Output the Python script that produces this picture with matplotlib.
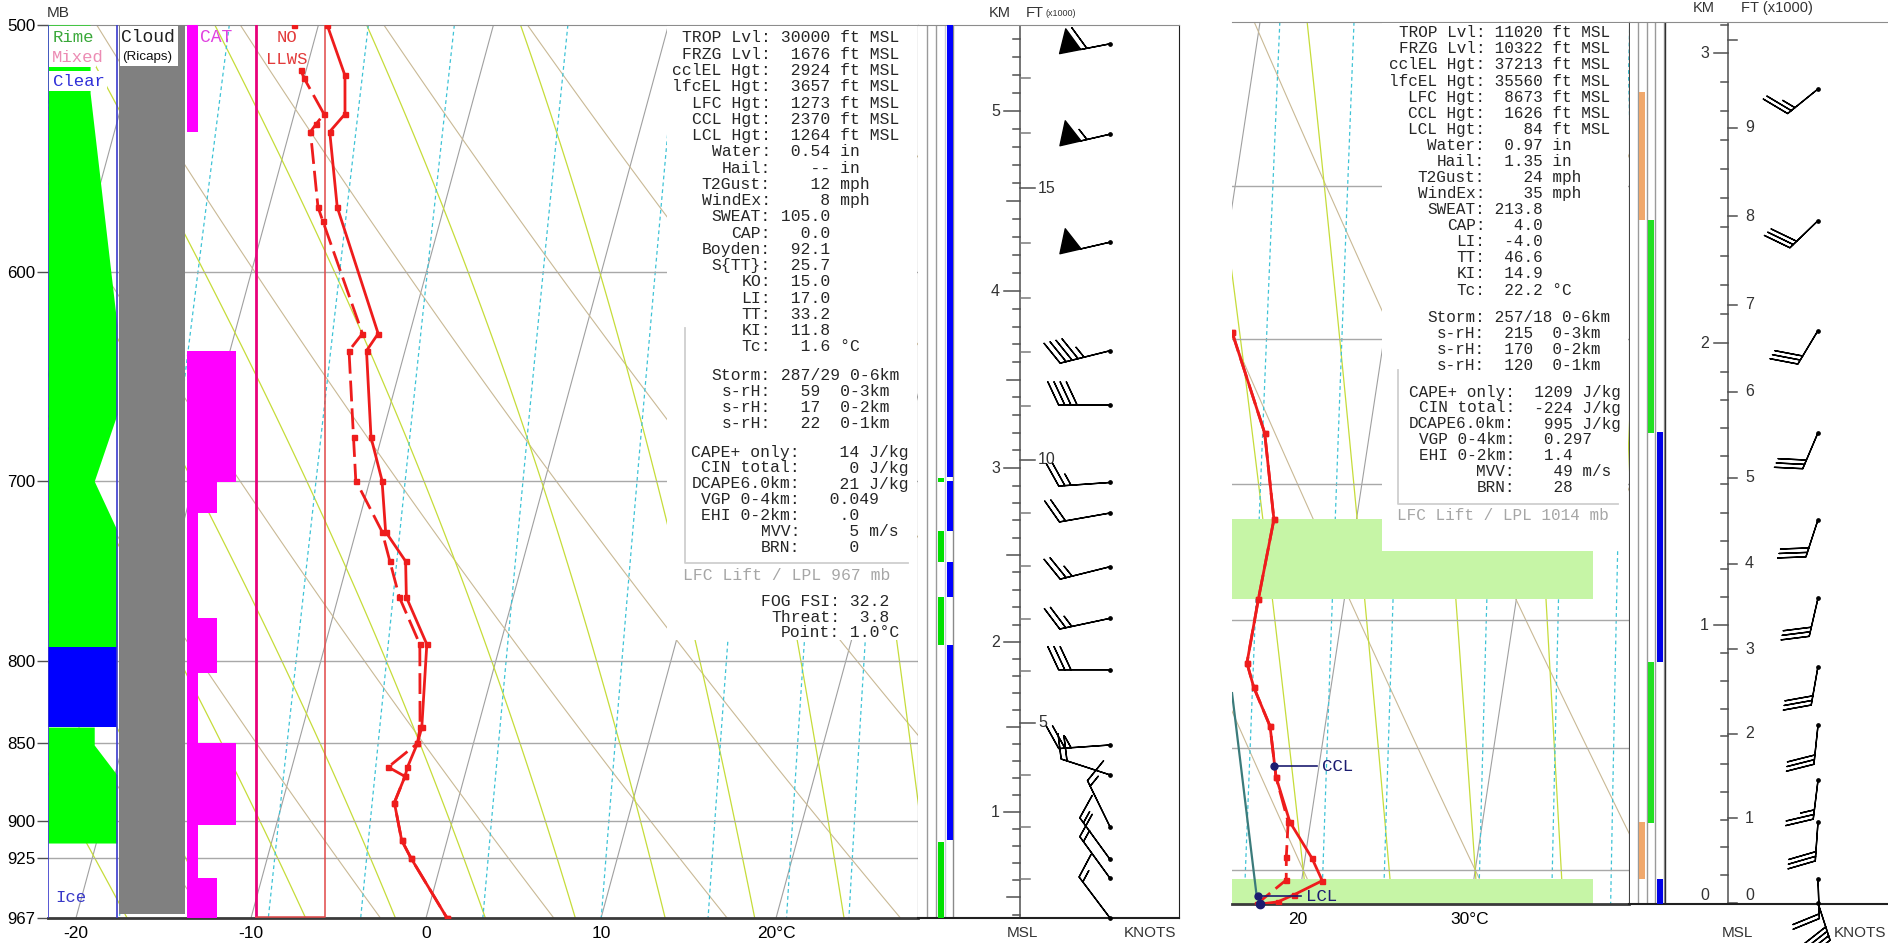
import numpy as np
import matplotlib
matplotlib.use("Agg")
import matplotlib.pyplot as plt
from matplotlib.lines import Line2D
from matplotlib.patches import Rectangle
from matplotlib.ticker import NullLocator
from matplotlib.transforms import Affine2D

W, H = 1888, 943
MONO = ["Liberation Mono", "DejaVu Sans Mono"]
SANS = ["Liberation Sans", "DejaVu Sans"]
SKEW = 21.0   # x shift in deg C per unit of ln(p)

# ---------------- left sounding (LPL 967 mb) ----------------
P_SFC_L, P_TOP_L = 967.0, 500.0
p_temp_L = [500, 519, 534, 541, 572, 628, 636, 678, 700, 727, 743, 763, 790,
            840, 850, 865, 871, 888, 913, 925, 967]
t_temp_L = [-19.5, -17.7, -17.1, -17.7, -16.1, -11.8, -12.2, -10.6, -9.3, -8.3,
            -6.7, -6.1, -4.2, -3.2, -3.2, -3.4, -3.4, -3.6, -2.6, -1.8, 1.2]
p_dewp_L = [500, 517, 520, 534, 538, 541, 572, 578, 628, 636, 678, 700, 727,
            743, 763, 790, 840, 850, 865, 871, 888, 913, 925, 967]
t_dewp_L = [-21.4, -20.3, -20.0, -18.3, -18.6, -18.8, -17.2, -16.7, -12.7, -13.2,
            -11.6, -10.8, -8.5, -7.6, -6.5, -4.6, -3.3, -3.2, -4.5, -3.4, -3.6,
            -2.6, -1.8, 1.2]
p_levels_L = [500, 600, 700, 800, 850, 900, 925, 967]

p_wind_L = [507, 542, 587, 636, 662, 701, 717, 746, 775, 805, 851, 870, 904, 926, 939, 967]
wdir_L = [259, 257, 257, 256, 270, 266, 260, 256, 258, 270, 266, 288, 334, 324, 324, 323]
wspd_L = [60, 55, 50, 45, 40, 25, 20, 25, 25, 30, 25, 20, 15, 15, 15, 15]

km_L = [0.38, 1, 2, 3, 4, 5, 5.48]
p_km_L = [967, 894.2, 788.7, 693.6, 608.6, 532.8, 500]

# icing column: rime outline (pressure, share of column width) and clear layer
rime_p1 = [500, 525.7, 624.0, 666.6, 700.3, 726.1, 791.3]
rime_w1 = [0.61, 0.61, 1.0, 1.0, 0.67, 1.0, 1.0]
rime_p2 = [839.8, 851.0, 870.0, 914.9]
rime_w2 = [0.67, 0.67, 1.0, 1.0]
clear_layers = [(791.3, 839.8)]
cloud_layers = [(500, 964.5)]
cat_top = [500, 636, 701, 717, 775, 807, 850, 903, 939]
cat_bot = [541, 701, 717, 775, 807, 850, 903, 939, 967]
cat_lvl = [1, 3, 2, 1, 2, 1, 3, 1, 2]

green_L = [(698.5, 701.0), (726.6, 743.4), (762.9, 790.4), (914.1, 967)]
blue_L = [(500, 698.2), (700.1, 726.6), (743.4, 762.9), (790.4, 912.9)]

stats_L = [("TROP Lvl:", " 30000 ft MSL"), ("FRZG Lvl:", "  1676 ft MSL"),
           ("cclEL Hgt:", "  2924 ft MSL"), ("lfcEL Hgt:", "  3657 ft MSL"),
           ("LFC Hgt:", "  1273 ft MSL"), ("CCL Hgt:", "  2370 ft MSL"),
           ("LCL Hgt:", "  1264 ft MSL"), ("Water:", "  0.54 in"),
           ("Hail:", "    -- in"), ("T2Gust:", "    12 mph"), ("WindEx:", "     8 mph"),
           ("SWEAT:", " 105.0"), ("CAP:", "   0.0"), ("Boyden:", "  92.1"),
           ("S{TT}:", "  25.7"), ("KO:", "  15.0"), ("LI:", "  17.0"),
           ("TT:", "  33.2"), ("KI:", "  11.8"), ("Tc:", "   1.6 °C")]
storm_L = [("Storm:", " 287/29 0-6km"), ("s-rH:", "   59  0-3km"),
           ("s-rH:", "   17  0-2km"), ("s-rH:", "   22  0-1km")]
cape_L = [("CAPE+ only:", "    14 J/kg"), ("CIN total:", "     0 J/kg"),
          ("DCAPE6.0km:", "    21 J/kg"), ("VGP 0-4km:", "   0.049"),
          ("EHI 0-2km:", "    .0"), ("MVV:", "     5 m/s"), ("BRN:", "     0")]
fog_L = [("FOG FSI:", " 32.2"), ("Threat:", "  3.8"), ("Point:", " 1.0°C")]

# ---------------- right sounding (LPL 1014 mb) ----------------
P_SFC_R, P_TOP_R = 1014.4, 700.0
p_temp_R = [797.4, 832.1, 862.9, 892.4, 916.6, 925.9, 941.3, 961.7, 980.0,
            995.0, 1004.5, 1010.4, 1013.5, 1014.4]
t_temp_R = [11.1, 13.9, 15.2, 15.0, 14.9, 15.5, 16.8, 17.6, 18.8, 20.4, 21.2,
            19.7, 18.8, 17.8]
p_dewp_R = [797.4, 832.1, 862.9, 892.4, 916.6, 925.9, 941.3, 961.7, 980.0,
            994.4, 1004.2, 1014.4]
t_dewp_R = [11.1, 13.9, 15.2, 15.0, 14.9, 15.5, 16.8, 17.6, 18.7, 18.9, 19.1, 17.6]
p_parcel_R = [928.3, 1011.7]
t_parcel_R = [14.3, 17.55]
ccl_R = (957.2, 17.4)
lcl_R = (1011.0, 17.6)
p_levels_R = [750, 800, 850, 900, 950, 1000]
cloud_band_R = [(862.9, 892.4), (1004.0, 1014.4)]

p_wind_R = [720, 761, 797, 832, 863, 892, 918, 941, 963, 980, 1004, 1014]
wdir_R = [231, 226, 211, 203, 198, 193, 190, 186, 187, 184, 178, 162]
wspd_R = [25, 30, 30, 30, 30, 30, 30, 30, 25, 30, 20, 40]

km_R = [0, 1, 2, 3, 3.11]
p_km_R = [1013.9, 902.2, 801.3, 709.3, 700]

orange_R = [(720.9, 760.9), (979.9, 1003.9)]
green_R = [(760.9, 832.1), (916.3, 980.3)]
blue_R = [(831.6, 916.3), (1003.8, 1014.4)]

stats_R = [("TROP Lvl:", " 11020 ft MSL"), ("FRZG Lvl:", " 10322 ft MSL"),
           ("cclEL Hgt:", " 37213 ft MSL"), ("lfcEL Hgt:", " 35560 ft MSL"),
           ("LFC Hgt:", "  8673 ft MSL"), ("CCL Hgt:", "  1626 ft MSL"),
           ("LCL Hgt:", "    84 ft MSL"), ("Water:", "  0.97 in"),
           ("Hail:", "  1.35 in"), ("T2Gust:", "    24 mph"), ("WindEx:", "    35 mph"),
           ("SWEAT:", " 213.8"), ("CAP:", "   4.0"), ("LI:", "  -4.0"),
           ("TT:", "  46.6"), ("KI:", "  14.9"), ("Tc:", "  22.2 °C")]
storm_R = [("Storm:", " 257/18 0-6km"), ("s-rH:", "  215  0-3km"),
           ("s-rH:", "  170  0-2km"), ("s-rH:", "  120  0-1km")]
cape_R = [("CAPE+ only:", "  1209 J/kg"), ("CIN total:", "  -224 J/kg"),
          ("DCAPE6.0km:", "   995 J/kg"), ("VGP 0-4km:", "   0.297"),
          ("EHI 0-2km:", "   1.4"), ("MVV:", "    49 m/s"), ("BRN:", "    28")]

# background diagram lines
ISOTHERMS = range(-90, 70, 10)
DRY_THETA = range(-50, 110, 10)
MOIST_THETA_W = range(-25, 45, 5)
MIX_RATIOS = [0.4, 1, 2, 3, 5, 8, 12, 16, 20, 28, 36, 44]

C_ISO, C_DRY, C_MOIST, C_MIX = "#a0a0a0", "#c9b995", "#c6dc3a", "#3ec3d6"
C_PLINE = "#a8a8a8"
RED = "#ee1c1c"
TXT = "#262626"


def skew(t, p, p0):
    return np.asarray(t, float) + SKEW * np.log(p0 / np.asarray(p, float))


def sat_vap(t):
    return 6.112 * np.exp(17.67 * t / (t + 243.5))


def dry_adiabat(theta, p):
    return (theta + 273.15) * (p / 1000.0) ** 0.2857 - 273.15


def mix_dewpoint(w, p):
    e = w * p / (622.0 + w)
    lg = np.log(e / 6.112)
    return 243.5 * lg / (17.67 - lg)


def moist_lapse(t, p):
    tk = t + 273.15
    es = sat_vap(t)
    rs = 0.622 * es / (p - es)
    num = 287.04 * tk + 2.501e6 * rs
    den = 1005.7 + 2.501e6 ** 2 * rs * 0.622 / (287.04 * tk ** 2)
    return num / den / p


def moist_adiabats(thw, pres):
    grid = np.arange(1100.0, 299.0, -2.0)
    i0 = int(np.argmin(np.abs(grid - 1000.0)))
    t = np.zeros((len(grid), len(thw)))
    t[i0] = thw
    for i in range(i0, len(grid) - 1):
        dp = grid[i + 1] - grid[i]
        k1 = moist_lapse(t[i], grid[i])
        k2 = moist_lapse(t[i] + k1 * dp, grid[i + 1])
        t[i + 1] = t[i] + 0.5 * (k1 + k2) * dp
    for i in range(i0, 0, -1):
        dp = grid[i - 1] - grid[i]
        k1 = moist_lapse(t[i], grid[i])
        k2 = moist_lapse(t[i] + k1 * dp, grid[i - 1])
        t[i - 1] = t[i] + 0.5 * (k1 + k2) * dp
    return [np.interp(pres, grid[::-1], t[::-1, j]) for j in range(len(thw))]


fig = plt.figure(figsize=(W / 100, H / 100), dpi=100)
fig.patch.set_facecolor("white")
PIX = Affine2D().scale(1.0 / W, -1.0 / H).translate(0.0, 1.0) + fig.transFigure


def px_axes(x0, y0, x1, y1):
    return fig.add_axes([x0 / W, 1 - y1 / H, (x1 - x0) / W, (y1 - y0) / H])


def ftext(x, y, s, size=11.76, color=TXT, family=MONO, **kw):
    kw.setdefault("va", "center")
    return fig.text(x, y, s, transform=PIX, fontsize=size, color=color,
                    family=family, **kw)


def white_box(x0, y0, x1, y1):
    fig.add_artist(Rectangle((x0, y0), x1 - x0, y1 - y0, transform=PIX,
                             facecolor="white", edgecolor="none", zorder=1))


def frame(x0, y0, x1, y1):
    fig.add_artist(Line2D([x0, x0, x1], [y0, y1, y1], transform=PIX,
                          color="#cfcfcf", lw=1.3, zorder=2))


def stat_rows(xc, y0, dy, rows, size):
    for i, (lab, val) in enumerate(rows):
        ftext(xc, y0 + i * dy, lab, size=size, ha="right")
        ftext(xc, y0 + i * dy, val, size=size, ha="left")


def skewt_axes(box, p0, ptop, xlim, xticks, xlabels, plevels):
    ax = px_axes(*box)
    ax.set_yscale("log")
    ax.set_xlim(*xlim)
    ax.set_ylim(p0, ptop)
    ax.yaxis.set_minor_locator(NullLocator())
    ax.set_xticks(xticks, labels=xlabels)
    ax.tick_params(axis="x", length=0, pad=6, labelsize=12.5)
    for lab in ax.get_xticklabels():
        lab.set_family(SANS)
    pp = np.geomspace(ptop, p0, 90)
    for t in ISOTHERMS:
        ax.plot(skew(np.full_like(pp, t), pp, p0), pp, color=C_ISO, lw=0.8, zorder=1)
    for th in DRY_THETA:
        ax.plot(skew(dry_adiabat(th, pp), pp, p0), pp, color=C_DRY, lw=0.8, zorder=1)
    for tm in moist_adiabats(np.array(MOIST_THETA_W, float), pp):
        ax.plot(skew(tm, pp, p0), pp, color=C_MOIST, lw=0.9, zorder=1)
    for w in MIX_RATIOS:
        ax.plot(skew(mix_dewpoint(w, pp), pp, p0), pp, color=C_MIX, lw=0.9,
                dashes=(3, 2.5), zorder=1)
    for p in plevels:
        ax.axhline(p, color=C_PLINE, lw=1.0, zorder=1.5)
    ax.spines["left"].set_visible(False)
    ax.spines["top"].set_color("#8c8c8c")
    ax.spines["bottom"].set_color("#3a3a3a")
    ax.spines["bottom"].set_linewidth(2)
    ax.spines["right"].set_color("#202020")
    return ax


def profile(ax, p, t, p0, dashed=False, marker_from=0):
    x = skew(t, p, p0)
    p = np.asarray(p, float)
    kw = dict(color=RED, lw=2.0, zorder=5)
    if dashed:
        kw["dashes"] = (7.5, 2.5)
    ax.plot(x[marker_from:], p[marker_from:], **kw)
    ax.plot(x, p, ls="none", marker="s", ms=3.6, color=RED, zorder=5)


def wind_axes(box, p0, ptop):
    ax = px_axes(*box)
    ax.set_yscale("log")
    ax.set_xlim(box[0], box[2])
    ax.set_ylim(p0, ptop)
    ax.set_xticks([])
    ax.set_yticks([])
    ax.yaxis.set_minor_locator(NullLocator())
    ax.spines["left"].set_visible(False)
    ax.spines["top"].set_color("#8c8c8c")
    ax.spines["bottom"].set_color("#202020")
    ax.spines["bottom"].set_linewidth(1.5)
    ax.spines["right"].set_color("#202020")
    return ax


def strip(ax, layers, x0, x1, color):
    for top, bot in layers:
        ax.fill_betweenx([top, bot], x0, x1, color=color, lw=0, zorder=3)


def km_to_p(z, km, pk):
    return np.exp(np.interp(z, km, np.log(pk)))


def barbs(ax, x, p, wdir, wspd, length, sizes):
    d = np.deg2rad(wdir)
    s = np.asarray(wspd, float)
    u, v = -s * np.sin(d), -s * np.cos(d)
    xs = np.full(len(p), x, float)
    ax.barbs(xs, p, u, v, length=length, pivot="tip", color="k", lw=1.0,
             sizes=sizes, zorder=5, clip_on=False)
    ax.plot(xs, p, ls="none", marker="o", ms=2.4, color="k", zorder=6, clip_on=False)


# ================= left panel =================
axL = skewt_axes((48, 25, 918, 918), P_SFC_L, P_TOP_L, (-21.6, 28.11),
                 [-20, -10, 0, 10, 20], ["-20", "-10", "0", "10", "20°C"],
                 p_levels_L[1:-1])
axL.set_yticks(p_levels_L, labels=[str(p) for p in p_levels_L])
axL.tick_params(axis="y", length=8, width=1, color="#505050", pad=1, labelsize=12.2)
for lab in axL.get_yticklabels():
    lab.set_family(SANS)

ytr = axL.get_yaxis_transform()


def fx(px):
    return (px - 48) / 870.0


col0, col1 = fx(48), fx(117)
axL.fill_betweenx(rime_p1, col0, col0 + np.array(rime_w1) * (col1 - col0),
                  transform=ytr, color="#00ff00", lw=0, zorder=3)
axL.fill_betweenx(rime_p2, col0, col0 + np.array(rime_w2) * (col1 - col0),
                  transform=ytr, color="#00ff00", lw=0, zorder=3)
for top, bot in clear_layers:
    axL.fill_betweenx([top, bot], col0, col1, transform=ytr, color="#0000ff", lw=0, zorder=3)
for xe in (col0, col1):
    axL.plot([xe, xe], [P_TOP_L, P_SFC_L], transform=ytr, color="#3a3acc", lw=1.2, zorder=3.5)
for top, bot in cloud_layers:
    axL.fill_betweenx([top, bot], fx(119), fx(185), transform=ytr, color="#808080", lw=0, zorder=3)
cat_width = {1: 11, 2: 30, 3: 49}
for top, bot, lvl in zip(cat_top, cat_bot, cat_lvl):
    axL.fill_betweenx([top, bot], fx(187), fx(187 + cat_width[lvl]), transform=ytr,
                      color="#ff00ff", lw=0, zorder=3)
# low level wind shear box
axL.plot([fx(256), fx(256)], [P_TOP_L, P_SFC_L], transform=ytr, color="#e8007a", lw=2, zorder=3.5)
axL.plot([fx(325), fx(325), fx(256)], [P_TOP_L, P_SFC_L - 1, P_SFC_L - 1], transform=ytr,
         color="#e04848", lw=1.1, zorder=3.5)

profile(axL, p_temp_L, t_temp_L, P_SFC_L)
profile(axL, p_dewp_L, t_dewp_L, P_SFC_L, dashed=True, marker_from=1)

# left wind / height panel
awL = wind_axes((918, 25, 1179, 918), P_SFC_L, P_TOP_L)
for xv, col in ((927, "#9a9a9a"), (936, "#9a9a9a"), (945, "#c8c8d8"), (953.3, "#8a8a8a")):
    awL.axvline(xv, color=col, lw=1.0, zorder=2)
strip(awL, green_L, 938, 943.5, "#00e000")
strip(awL, blue_L, 946.5, 952.7, "#0000ff")

XA = 1020
awL.plot([XA, XA], [P_SFC_L, P_TOP_L], color="#6a6a6a", lw=1.3, zorder=2)
for z in np.arange(0.4, 5.45, 0.1):
    p = km_to_p(z, km_L, p_km_L)
    if abs(z - round(z)) < 1e-6:
        awL.plot([XA - 16, XA], [p, p], color="#505050", lw=1.1, zorder=2)
        awL.text(XA - 20, p, str(int(round(z))), ha="right", va="center",
                 family=SANS, fontsize=11.5, color="#333333")
    elif abs(z * 2 - round(z * 2)) < 1e-6:
        awL.plot([XA - 13, XA], [p, p], color="#505050", lw=1.1, zorder=2)
    else:
        awL.plot([XA - 7, XA], [p, p], color="#505050", lw=1.1, zorder=2)
for k in range(2, 18):
    p = km_to_p(k * 0.3048, km_L, p_km_L)
    if k % 5 == 0:
        awL.plot([XA, XA + 15], [p, p], color="#505050", lw=1.1, zorder=2)
        awL.text(XA + 18, p, str(k), ha="left", va="center", family=SANS,
                 fontsize=11.5, color="#333333")
    else:
        awL.plot([XA, XA + 10], [p, p], color="#7a7a7a", lw=1.1, zorder=2)
barbs(awL, 1110, p_wind_L, wdir_L, wspd_L, 8.6,
      dict(height=0.45, width=0.42, spacing=0.12, emptybarb=0.1))

# ================= right panel =================
axR = skewt_axes((1232, 22, 1629, 904), P_SFC_R, P_TOP_R, (16.16, 39.24),
                 [20, 30], ["20", "30°C"], p_levels_R)
axR.set_yticks([])
axR.yaxis.set_minor_locator(NullLocator())
for top, bot in cloud_band_R:
    axR.fill_betweenx([top, bot], 16.16, 37.15, color="#c6f5a6", lw=0, zorder=2)
axR.plot(skew(t_parcel_R, p_parcel_R, P_SFC_R), p_parcel_R, color="#3b7b7b", lw=1.6, zorder=4)
profile(axR, p_temp_R, t_temp_R, P_SFC_R)
profile(axR, p_dewp_R, t_dewp_R, P_SFC_R, dashed=True)
for (pc, tc), name in ((ccl_R, "CCL"), (lcl_R, "LCL")):
    xc = float(skew(tc, pc, P_SFC_R))
    axR.plot([xc, xc + 2.5], [pc, pc], color="#1c1c70", lw=1.2, zorder=6)
    axR.plot([xc], [pc], "o", ms=5, color="#1c1c70", zorder=6)
    axR.text(xc + 2.8, pc, name, family=MONO, fontsize=12.5, color="#1c1c70",
             va="center", zorder=6)
axR.plot([skew(t_temp_R[-1], P_SFC_R, P_SFC_R)], [P_SFC_R], "o", ms=6,
         color="#1c1c70", zorder=6, clip_on=False)

awR = wind_axes((1629, 22, 1888, 904), P_SFC_R, P_TOP_R)
awR.spines["right"].set_visible(False)
for xv, col in ((1638, "#9a9a9a"), (1647, "#9a9a9a"), (1655.5, "#9a9a9a"), (1664, "#9a9a9a"),
                (1665.5, "#303030")):
    awR.axvline(xv, color=col, lw=1.0, zorder=2)
awR.axvline(1629.5, color="#202020", lw=1.2, zorder=2)
strip(awR, orange_R, 1639.5, 1645.5, "#f0a86c")
strip(awR, green_R, 1648, 1654.5, "#22e022")
strip(awR, blue_R, 1657, 1663, "#0000e8")

XB = 1728
awR.plot([XB, XB], [P_SFC_R, P_TOP_R], color="#6a6a6a", lw=1.3, zorder=2)
for z in np.arange(0.1, 3.11, 0.1):
    p = km_to_p(z, km_R, p_km_R)
    if abs(z - round(z)) < 1e-6:
        awR.plot([XB - 14, XB], [p, p], color="#505050", lw=1.1, zorder=2)
    else:
        awR.plot([XB - 6.5, XB], [p, p], color="#505050", lw=1.1, zorder=2)
for z in range(0, 4):
    p = km_to_p(z, km_R, p_km_R)
    awR.text(XB - 19, p, str(z), ha="right", va="bottom" if z == 0 else "center",
             family=SANS, fontsize=11.5, color="#333333")
for k in range(0, 11):
    p = km_to_p(k * 0.3048, km_R, p_km_R)
    awR.plot([XB, XB + 9], [p, p], color="#505050", lw=1.1, zorder=2)
    if k < 10:
        awR.text(XB + 17, p, str(k), ha="left", va="bottom" if k == 0 else "center",
                 family=SANS, fontsize=11.5, color="#333333")
barbs(awR, 1818, p_wind_R, wdir_R, wspd_R, 7.5,
      dict(height=0.68, width=0.5, spacing=0.12, emptybarb=0.1))

# ================= labels and text blocks =================
ftext(47, 13, "MB", size=11, family=SANS, color="#333333")
ftext(1000, 13, "KM", size=10.5, family=SANS, color="#333333", ha="center")
ftext(1026, 13, "FT", size=10.5, family=SANS, color="#333333")
ftext(1045, 14, "(x1000)", size=6.5, family=SANS, color="#333333")
ftext(1022, 933, "MSL", size=11, family=SANS, color="#333333", ha="center")
ftext(1150, 933, "KNOTS", size=11, family=SANS, color="#333333", ha="center")
ftext(1704, 8, "KM", size=10.5, family=SANS, color="#333333", ha="center")
ftext(1741, 8, "FT (x1000)", size=10.5, family=SANS, color="#333333")
ftext(1737, 933, "MSL", size=11, family=SANS, color="#333333", ha="center")
ftext(1860, 933, "KNOTS", size=11, family=SANS, color="#333333", ha="center")

# column headers
white_box(49, 26, 96, 67)
white_box(49, 71, 107, 91)
white_box(120, 26, 178, 66)
ftext(53, 38, "Rime", size=12.4, color="#3aa83a")
ftext(52, 58, "Mixed", size=12.4, color="#ec8cb4")
ftext(53, 81, "Clear", size=12.4, color="#3030d8")
ftext(121, 37, "Cloud", size=13, color="#202020")
ftext(122, 57, "(Ricaps)", size=9.6, family=SANS, color="#101010")
ftext(200, 38, "CAT", size=13, color="#e040e0")
ftext(287, 38, "NO", size=12.4, color="#e23a3a", ha="center")
ftext(287, 59, "LLWS", size=12.4, color="#e23a3a", ha="center")
ftext(71, 897, "Ice", size=12.4, color="#3838c8", ha="center")

# left statistics
white_box(667, 26, 917, 640)
frame(685, 328, 908, 563)
stat_rows(771, 38, 16.26, stats_L, 11.76)
stat_rows(771, 375, 16.1, storm_L, 11.76)
stat_rows(800, 452, 16.0, cape_L, 11.76)
ftext(683, 575, "LFC Lift / LPL 967 mb", size=11.76, color="#a6a6a6")
stat_rows(840, 602, 15.3, fog_L, 11.76)

# right statistics
white_box(1382, 23, 1628, 551)
frame(1398, 370, 1618, 504)
stat_rows(1485.2, 32.8, 16.08, stats_R, 11.55)
stat_rows(1485.2, 317.6, 16.1, storm_R, 11.55)
stat_rows(1514.8, 392, 16.0, cape_R, 11.55)
ftext(1396.7, 515, "LFC Lift / LPL 1014 mb", size=11.55, color="#a6a6a6")

fig.savefig("out.png", dpi=100, facecolor="white")
